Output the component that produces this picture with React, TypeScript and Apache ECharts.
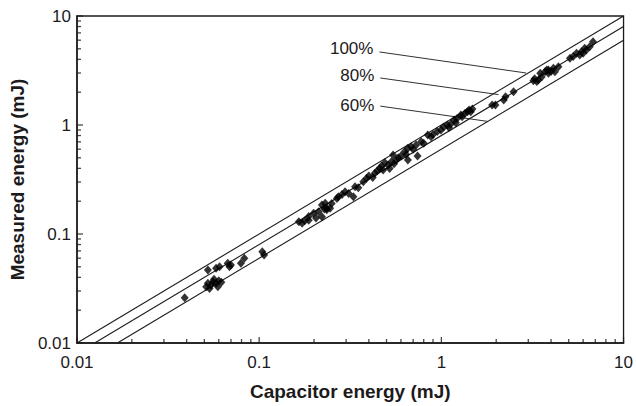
import React, { useEffect, useRef } from "react";
import * as echarts from "echarts";

const capacitorEnergy = [
  0.039, 0.0512, 0.0523, 0.0523, 0.0534, 0.0545, 0.0557, 0.0565, 0.058, 0.058, 0.0593, 0.06, 0.0606, 0.062,
  0.0672, 0.0687, 0.07, 0.0794, 0.0829, 0.104, 0.1064,
  0.165, 0.172, 0.178, 0.187, 0.187, 0.199, 0.205, 0.212, 0.221, 0.221, 0.228, 0.2305, 0.235, 0.235, 0.245,
  0.25, 0.267, 0.272, 0.285,
  0.296, 0.31, 0.329, 0.336, 0.35, 0.373, 0.389, 0.4, 0.42, 0.431, 0.445, 0.459, 0.47, 0.479, 0.49, 0.51,
  0.52, 0.532, 0.543, 0.55, 0.566, 0.58, 0.6, 0.628, 0.64, 0.655, 0.655, 0.683, 0.7, 0.727, 0.74, 0.775,
  0.8, 0.842, 0.878, 0.9, 0.95, 0.995, 1.03, 1.08, 1.1, 1.127, 1.175, 1.2, 1.22, 1.28, 1.3, 1.35, 1.39,
  1.42, 1.45, 1.48,
  1.9, 1.98, 2.2, 2.25, 2.49,
  3.2, 3.25, 3.34, 3.41, 3.49, 3.55, 3.71, 3.79, 3.87, 3.87, 4.0, 4.12, 4.2, 4.39,
  5.08, 5.29, 5.52, 5.75, 5.87, 6.0, 6.12, 6.25, 6.52, 6.8,
];
const measuredEnergy = [
  0.026, 0.0329, 0.0468, 0.0353, 0.0317, 0.034, 0.0365, 0.0385, 0.0484, 0.0353, 0.0329, 0.0372, 0.05, 0.036,
  0.0538, 0.05, 0.052, 0.0538, 0.0598, 0.0688, 0.0642,
  0.1297, 0.1254, 0.132, 0.134, 0.1444, 0.155, 0.14, 0.16, 0.144, 0.1845, 0.17, 0.191, 0.1667, 0.172, 0.172,
  0.19, 0.212, 0.22, 0.23,
  0.244, 0.235, 0.22, 0.272, 0.265, 0.302, 0.324, 0.34, 0.33, 0.36, 0.38, 0.401, 0.42, 0.386, 0.45, 0.43,
  0.4, 0.46, 0.53, 0.44, 0.477, 0.5, 0.52, 0.569, 0.54, 0.611, 0.477, 0.632, 0.6, 0.655, 0.52, 0.703,
  0.68, 0.81, 0.781, 0.82, 0.87, 0.9, 0.96, 1.0, 0.95, 1.02, 1.11, 1.05, 1.15, 1.236, 1.19, 1.28, 1.325,
  1.37, 1.325, 1.4,
  1.526, 1.526, 1.695, 1.82, 2.02,
  2.55, 2.65, 2.5, 2.59, 2.98, 2.75, 3.08, 3.2, 3.2, 2.98, 3.1, 3.31, 3.08, 3.43,
  4.09, 4.24, 4.55, 4.39, 4.71, 4.55, 5.06, 4.88, 5.23, 5.81,
];

const efficiencyRatios = [1, 0.8, 0.6];
const efficiencyLabels = ["100%", "80%", "60%"];
// leader line start / end points in data coordinates
const leaderStart = [
  [0.457, 4.68],
  [0.462, 2.7],
  [0.462, 1.49],
];
const leaderEnd = [
  [2.92, 3.0],
  [2.06, 1.9],
  [1.79, 1.08],
];

const axisMin = 0.01;
const axisMax = 10;
const majorTicks = [0.01, 0.1, 1, 10];
const minorMultipliers = [2, 3, 4, 5, 6, 7, 8, 9];

const INK = "#1c1a1b";
const FONT = "'Liberation Sans', Arial, Helvetica, sans-serif";

export default function App() {
  const ref = useRef<HTMLDivElement>(null);

  useEffect(() => {
    if (!ref.current) return;
    const chart = echarts.init(ref.current, undefined, { renderer: "svg" });

    const minorTickValues: number[] = [];
    majorTicks.slice(0, -1).forEach((d) => minorMultipliers.forEach((m) => minorTickValues.push(d * m)));

    const tickSeries = (values: number[], onX: boolean, len: number) => ({
      type: "scatter",
      data: values.map((v) => (onX ? [v, axisMin] : [axisMin, v])),
      symbol: "rect",
      symbolSize: onX ? [1.3, len] : [len, 1.3],
      symbolOffset: onX ? [0, -len / 2] : [len / 2, 0],
      itemStyle: { color: INK },
      silent: true,
      clip: false,
      z: 6,
    });

    const refLines = efficiencyRatios.map((r) => ({
      type: "line",
      data: [
        [axisMin / r, axisMin],
        [axisMax, axisMax * r],
      ],
      symbol: "none",
      lineStyle: { color: INK, width: 1.1 },
      silent: true,
      z: 2,
    }));

    const leaders = leaderStart.map((p, i) => ({
      type: "line",
      data: [p, leaderEnd[i]],
      symbol: "none",
      lineStyle: { color: INK, width: 0.9 },
      silent: true,
      z: 3,
    }));

    chart.setOption({
      animation: false,
      grid: {
        left: 73,
        right: 12,
        top: 16,
        bottom: 63,
        show: true,
        borderColor: INK,
        borderWidth: 1.3,
        backgroundColor: "transparent",
      },
      xAxis: {
        type: "log",
        logBase: 10,
        min: axisMin,
        max: axisMax,
        name: "Capacitor energy (mJ)",
        nameLocation: "middle",
        nameGap: 39,
        nameTextStyle: { color: INK, fontSize: 19, fontWeight: "bold", fontFamily: FONT },
        axisLine: { lineStyle: { color: INK, width: 1.5 } },
        axisTick: { show: false },
        splitLine: { show: false },
        axisLabel: {
          color: INK,
          fontSize: 17,
          fontFamily: FONT,
          margin: 11,
          formatter: (v: number) => String(v),
        },
      },
      yAxis: {
        type: "log",
        logBase: 10,
        min: axisMin,
        max: axisMax,
        name: "Measured energy (mJ)",
        nameLocation: "middle",
        nameGap: 50,
        nameTextStyle: { color: INK, fontSize: 19, fontWeight: "bold", fontFamily: FONT },
        axisLine: { lineStyle: { color: INK, width: 1.5 } },
        axisTick: { show: false },
        splitLine: { show: false },
        axisLabel: {
          color: INK,
          fontSize: 17,
          fontFamily: FONT,
          margin: 6,
          formatter: (v: number) => String(v),
        },
      },
      series: [
        ...refLines,
        ...leaders,
        {
          type: "scatter",
          data: capacitorEnergy.map((x, i) => [x, measuredEnergy[i]]),
          symbol: "diamond",
          symbolSize: [8, 9],
          itemStyle: { color: "#000" },
          z: 4,
        },
        tickSeries(majorTicks, true, 6),
        tickSeries(minorTickValues, true, 4),
        tickSeries(majorTicks, false, 6),
        tickSeries(minorTickValues, false, 4),
      ],
    } as any);

    // leader labels, positioned through the axis scales
    const graphics: any[] = [];
    leaderStart.forEach((p, i) => {
      const q = chart.convertToPixel({ gridIndex: 0 }, p) as number[];
      graphics.push({
        type: "text",
        z: 100,
        x: q[0] - 6,
        y: q[1] - (i === 0 ? 3 : i === 1 ? 2 : 1),
        style: {
          text: efficiencyLabels[i],
          fill: INK,
          fontSize: 17,
          fontFamily: FONT,
          align: "right",
          verticalAlign: "middle",
        },
      });
    });
    chart.setOption({ graphic: { elements: graphics } });

    return () => chart.dispose();
  }, []);

  return (
    <div
      ref={ref}
      style={{ position: "fixed", left: 0, top: 0, width: 636, height: 406, background: "#fff" }}
    />
  );
}
